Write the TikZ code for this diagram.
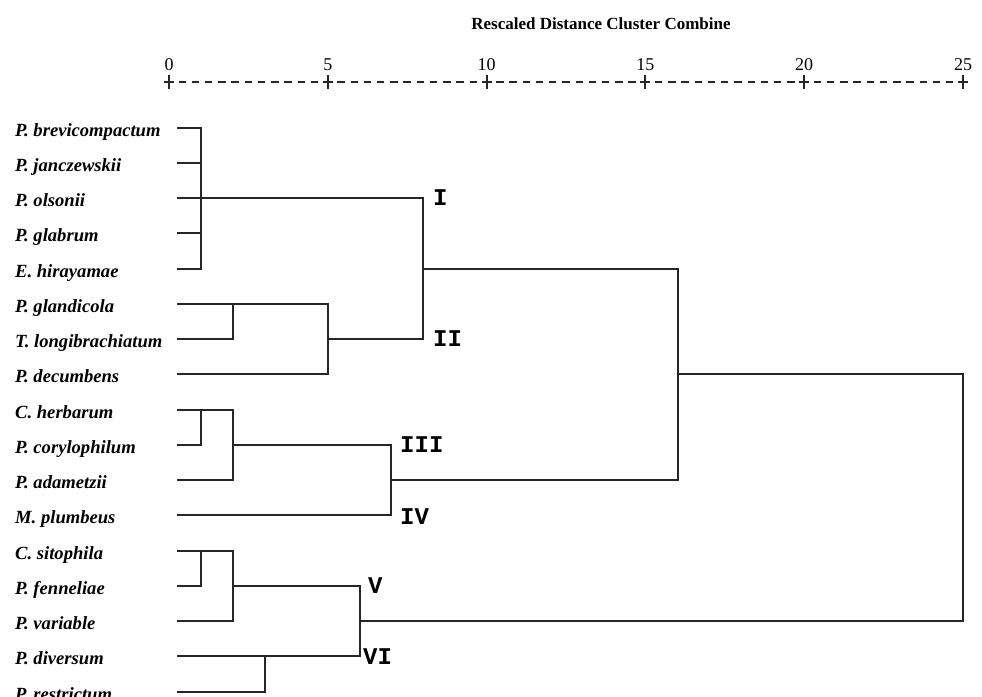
\documentclass[tikz,border=0pt]{standalone}
\usepackage{fontspec}
\setmainfont{Liberation Serif}
\newfontfamily\monofam{Liberation Mono}
\usetikzlibrary{calc}
\newcommand\myleaffont{\bfseries\itshape\fontsize{18.6}{22}\selectfont}
\newcommand\myromfont{\monofam\bfseries\fontsize{24}{26}\selectfont}
\newcommand\mytickfont{\fontsize{18}{20}\selectfont}
\newcommand\mytitlefont{\bfseries\fontsize{17}{20}\selectfont}
\tikzset{
  leaf/.style={anchor=base west, inner sep=0pt, font=\myleaffont},
  clus/.style={anchor=west, inner sep=0pt, font=\myromfont},
  ticklbl/.style={anchor=base, inner sep=0pt, font=\mytickfont},
  axisline/.style={line width=2pt, draw=black!85},
  branch/.style={line width=2pt, line join=miter, draw=black!85},
}
\begin{document}
\begin{tikzpicture}[x=1pt,y=-1pt]
\useasboundingbox (0,0) rectangle (982,696);
% title
\node[anchor=base, inner sep=0pt, font=\mytitlefont] (title) at (601,29) {Rescaled Distance Cluster Combine};
% axis
\foreach \k/\v in {0/0,1/5,2/10,3/15,4/20,5/25} {
  \coordinate (t\k) at ({169+158.8*\k},82);
  \draw[axisline] ($(t\k)+(-5,0)$) -- ($(t\k)+(5,0)$) ($(t\k)+(0,-7)$) -- ($(t\k)+(0,7)$);
  \node[ticklbl] (v\k) at ({169+158.8*\k},70) {\v};
}
\foreach \k in {0,...,4} {
  \foreach \j in {1,...,11} {
    \draw[axisline] ({169+158.8*\k+13.23*\j-3.7},82) -- ++(7.4,0);
  }
}
% leaves
\foreach \i/\t in {1/{P. brevicompactum},2/{P. janczewskii},3/{P. olsonii},4/{P. glabrum},5/{E. hirayamae},6/{P. glandicola},7/{T. longibrachiatum},8/{P. decumbens},9/{C. herbarum},10/{P. corylophilum},11/{P. adametzii},12/{M. plumbeus},13/{C. sitophila},14/{P. fenneliae},15/{P. variable},16/{P. diversum},17/{P. restrictum}} {
  \coordinate (s\i) at (177,{127.5+35.25*(\i-1)});
  \node[leaf] (n\i) at (15,{127.5+35.25*(\i-1)+8.5}) {\t};
}
% merge levels
\coordinate (x1) at (201,0);
\coordinate (x2) at (233,0);
\coordinate (x3) at (265,0);
\coordinate (x5) at (328,0);
\coordinate (x6) at (360,0);
\coordinate (x7) at (391,0);
\coordinate (x8) at (423,0);
\coordinate (x16) at (678,0);
\coordinate (x25) at (963,0);
% cluster I
\draw[branch] (s1) -- (s1-|x1) -- (s5-|x1) -- (s5);
\draw[branch] (s2) -- (s2-|x1);
\draw[branch] (s4) -- (s4-|x1);
\draw[branch] (s3) -- (s3-|x8) -- (s7-|x8) -- (s7-|x5);
% cluster II
\draw[branch] (s6) -- (s6-|x5) -- (s8-|x5) -- (s8);
\draw[branch] (s7) -- (s7-|x2) -- (s6-|x2);
% join I+II with III+IV
\draw[branch] (s5-|x8) -- (s5-|x16) -- (s11-|x16) -- (s11-|x7);
% cluster III / IV
\draw[branch] (s10) -- (s10-|x1) -- (s9-|x1);
\draw[branch] (s9) -- (s9-|x2) -- (s11-|x2) -- (s11);
\draw[branch] (s10-|x2) -- (s10-|x7) -- (s12-|x7) -- (s12);
% top join
\draw[branch] (s8-|x16) -- (s8-|x25) -- (s15-|x25) -- (s15-|x6);
% cluster V / VI
\draw[branch] (s14) -- (s14-|x1) -- (s13-|x1);
\draw[branch] (s13) -- (s13-|x2) -- (s15-|x2) -- (s15);
\draw[branch] (s14-|x2) -- (s14-|x6) -- (s16-|x6) -- (s16);
\draw[branch] (s17) -- (s17-|x3) -- (s16-|x3);
% cluster labels
\node[clus] (cI) at ($(s3-|x8)+(10,0)$) {I};
\node[clus] (cII) at ($(s7-|x8)+(10,0)$) {II};
\node[clus] (cIII) at ($(s10-|x7)+(9,0)$) {III};
\node[clus] (cIV) at ($(s12-|x7)+(9,1)$) {IV};
\node[clus] (cV) at ($(s14-|x6)+(8,0)$) {V};
\node[clus] (cVI) at ($(s16-|x6)+(3,0)$) {VI};
\end{tikzpicture}
\end{document}
